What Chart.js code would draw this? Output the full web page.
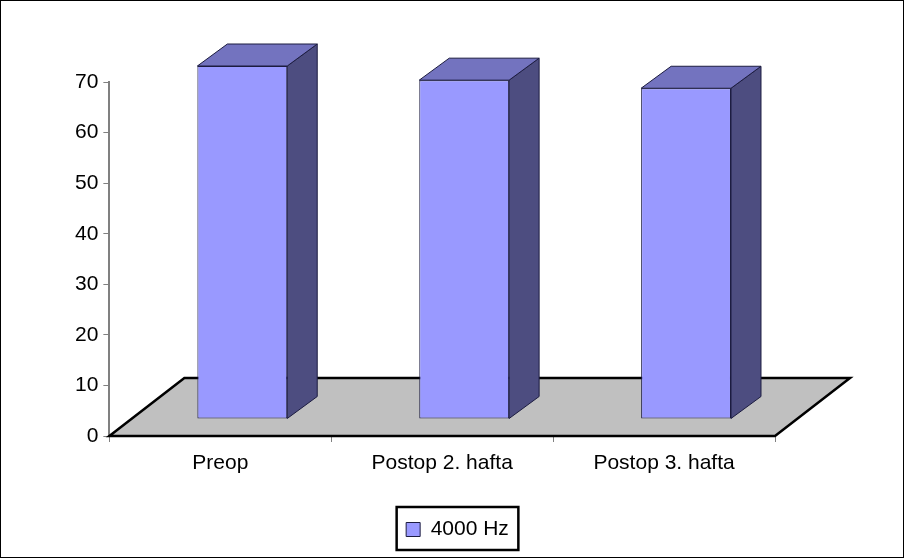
<!DOCTYPE html>
<html>
<head>
<meta charset="utf-8">
<title>4000 Hz</title>
<script src="https://cdn.jsdelivr.net/npm/chart.js@4"></script>
<style>
    html, body { margin: 0; padding: 0; background: #fff; }
    #chart { display: block; }
</style>
</head>
<body>
<canvas id="chart" width="904" height="560"></canvas>
<script>
const categories = ['Preop', 'Postop 2. hafta', 'Postop 3. hafta'];
const seriesName = '4000 Hz';
const seriesValues = [69.8, 67.0, 65.4];

const color = { front: '#9999ff', side: '#4d4d80', top: '#7373bf', edge: '#1c1c40' };

// floor depth and bar depth of the fake 3D view
const floorDepth = { x: 75, y: 58 };
const barDepth = { x: 30, y: 22 };
const barShift = { x: 22, y: 17 };

function polygon(ctx, points, fill, stroke, lineWidth) {
    ctx.beginPath();
    points.forEach(function (p, i) {
        if (i === 0) ctx.moveTo(p[0], p[1]);
        else ctx.lineTo(p[0], p[1]);
    });
    ctx.closePath();
    ctx.fillStyle = fill;
    ctx.fill();
    ctx.strokeStyle = stroke;
    ctx.lineWidth = lineWidth;
    ctx.stroke();
}

const box3d = {
    id: 'box3d',
    afterLayout(chart) {
        // legend sits right of the plot centre
        chart.legend.left += 35;
        chart.legend.right += 35;
    },
    beforeDraw(chart) {
        const ctx = chart.ctx;
        ctx.save();
        ctx.fillStyle = '#fff';
        ctx.fillRect(0, 0, chart.width, chart.height);
        ctx.strokeStyle = '#000';
        ctx.lineWidth = 1;
        ctx.strokeRect(0.5, 0.5, chart.width - 1, 557);
        ctx.restore();
    },
    beforeDatasetsDraw(chart) {
        const ctx = chart.ctx;
        const a = chart.chartArea;
        ctx.save();
        polygon(ctx, [
            [a.left, a.bottom],
            [a.left + floorDepth.x, a.bottom - floorDepth.y],
            [a.right + floorDepth.x, a.bottom - floorDepth.y],
            [a.right, a.bottom]
        ], '#c0c0c0', '#000', 2.5);
        ctx.restore();
    },
    beforeDatasetDraw(chart, args) {
        const ctx = chart.ctx;
        ctx.save();
        ctx.translate(barShift.x, -barShift.y);
        chart.getDatasetMeta(args.index).data.forEach(function (bar) {
            const l = bar.x - bar.width / 2;
            const r = bar.x + bar.width / 2;
            const dx = barDepth.x;
            const dy = barDepth.y;
            polygon(ctx, [[r, bar.y], [r + dx, bar.y - dy], [r + dx, bar.base - dy], [r, bar.base]], color.side, color.edge, 1);
            polygon(ctx, [[l, bar.y], [l + dx, bar.y - dy], [r + dx, bar.y - dy], [r, bar.y]], color.top, color.edge, 1);
        });
    },
    afterDatasetDraw(chart) {
        chart.ctx.restore();
    },
    afterDraw(chart) {
        // frame around the legend
        const ctx = chart.ctx;
        const lg = chart.legend;
        ctx.save();
        ctx.strokeStyle = '#000';
        ctx.lineWidth = 2.5;
        const w = lg.lineWidths[0] + 7;
        const cx = (lg.left + lg.right) / 2;
        ctx.strokeRect(cx - w / 2, lg.top, w, lg.bottom - lg.top);
        ctx.restore();
    }
};

new Chart(document.getElementById('chart'), {
    type: 'bar',
    data: {
        labels: categories,
        datasets: [{
            label: seriesName,
            data: seriesValues,
            backgroundColor: color.front,
            borderColor: color.edge,
            borderWidth: 1,
            borderSkipped: false,
            clip: false,
            categoryPercentage: 1,
            barPercentage: 0.405
        }]
    },
    options: {
        responsive: false,
        animation: false,
        layout: { padding: { left: 70, right: 129, top: 82, bottom: 10 } },
        plugins: {
            tooltip: { enabled: false },
            legend: {
                position: 'bottom',
                labels: {
                    color: '#000',
                    boxWidth: 14,
                    boxHeight: 14,
                    padding: 12,
                    font: { family: 'Liberation Sans', size: 21 }
                }
            }
        },
        scales: {
            x: {
                grid: { offset: true, drawOnChartArea: false, tickLength: 6, color: '#808080' },
                border: { display: false },
                ticks: { color: '#000', padding: 9, maxRotation: 0, font: { family: 'Liberation Sans', size: 21 } },
                afterFit(scale) { scale.height = 71; }
            },
            y: {
                min: 0,
                max: 70,
                grid: { drawOnChartArea: false, tickLength: 6, color: '#808080' },
                border: { color: '#808080', width: 2 },
                ticks: { stepSize: 10, color: '#000', padding: 5, font: { family: 'Liberation Sans', size: 21 } }
            }
        }
    },
    plugins: [box3d]
});
</script>
</body>
</html>
